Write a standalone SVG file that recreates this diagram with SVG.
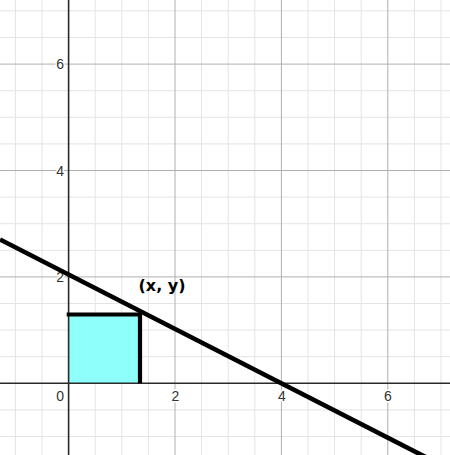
<svg xmlns="http://www.w3.org/2000/svg" width="450" height="455" viewBox="0 0 450 455">
<style>
.minor{stroke:#e4e4e4;stroke-width:1}
.major{stroke:#b0b0b0;stroke-width:1}
.axis{stroke:#2a2a2a;stroke-width:1.6}
.tick{font-family:"Liberation Sans",Arial,sans-serif;font-size:14px;fill:#333;stroke:#fff;stroke-width:3;paint-order:stroke;stroke-linejoin:round}
.edge{stroke:#000;stroke-width:4.2;fill:none}
</style>
<rect width="450" height="455" fill="#fff"/>
<g id="grid-minor" class="minor">
<line x1="15.4" y1="0" x2="15.4" y2="455"/>
<line x1="42" y1="0" x2="42" y2="455"/>
<line x1="95.2" y1="0" x2="95.2" y2="455"/>
<line x1="121.8" y1="0" x2="121.8" y2="455"/>
<line x1="148.4" y1="0" x2="148.4" y2="455"/>
<line x1="201.6" y1="0" x2="201.6" y2="455"/>
<line x1="228.2" y1="0" x2="228.2" y2="455"/>
<line x1="254.8" y1="0" x2="254.8" y2="455"/>
<line x1="308" y1="0" x2="308" y2="455"/>
<line x1="334.6" y1="0" x2="334.6" y2="455"/>
<line x1="361.2" y1="0" x2="361.2" y2="455"/>
<line x1="414.4" y1="0" x2="414.4" y2="455"/>
<line x1="441" y1="0" x2="441" y2="455"/>
<line x1="0" y1="10.9" x2="450" y2="10.9"/>
<line x1="0" y1="37.5" x2="450" y2="37.5"/>
<line x1="0" y1="90.7" x2="450" y2="90.7"/>
<line x1="0" y1="117.3" x2="450" y2="117.3"/>
<line x1="0" y1="143.9" x2="450" y2="143.9"/>
<line x1="0" y1="197.1" x2="450" y2="197.1"/>
<line x1="0" y1="223.7" x2="450" y2="223.7"/>
<line x1="0" y1="250.3" x2="450" y2="250.3"/>
<line x1="0" y1="303.5" x2="450" y2="303.5"/>
<line x1="0" y1="330.1" x2="450" y2="330.1"/>
<line x1="0" y1="356.7" x2="450" y2="356.7"/>
<line x1="0" y1="409.9" x2="450" y2="409.9"/>
<line x1="0" y1="436.5" x2="450" y2="436.5"/>
</g>
<g id="grid-major" class="major">
<line x1="175" y1="0" x2="175" y2="455"/>
<line x1="281.4" y1="0" x2="281.4" y2="455"/>
<line x1="387.8" y1="0" x2="387.8" y2="455"/>
<line x1="0" y1="64.1" x2="450" y2="64.1"/>
<line x1="0" y1="170.5" x2="450" y2="170.5"/>
<line x1="0" y1="276.9" x2="450" y2="276.9"/>
</g>
<rect id="shaded" x="68.6" y="314.5" width="71.4" height="68.8" fill="#8efffa"/>
<g id="axes" class="axis">
<line x1="68.6" y1="0" x2="68.6" y2="455"/>
<line x1="0" y1="383.3" x2="450" y2="383.3"/>
</g>
<g id="ticks" class="tick">
<text x="64" y="69" text-anchor="end">6</text>
<text x="64" y="175.5" text-anchor="end">4</text>
<text x="64" y="282" text-anchor="end">2</text>
<text x="64" y="400.5" text-anchor="end">0</text>
<text x="175.5" y="400.5" text-anchor="middle">2</text>
<text x="282" y="400.5" text-anchor="middle">4</text>
<text x="388" y="400.5" text-anchor="middle">6</text>
</g>
<g id="connectors">
<line id="main-line" x1="0" y1="239.5" x2="450" y2="469.5" stroke="#000" stroke-width="4.6"/>
<line id="top-edge" class="edge" x1="66.7" y1="314.5" x2="142" y2="314.5"/>
<line id="right-edge" class="edge" x1="140" y1="312.5" x2="140" y2="383.3"/>
</g>
<g id="point-label">
<text x="138.5" y="290.5" font-family="DejaVu Sans,Verdana,sans-serif" font-weight="bold" font-size="16" fill="#000">(x, y)</text>
</g>
</svg>
